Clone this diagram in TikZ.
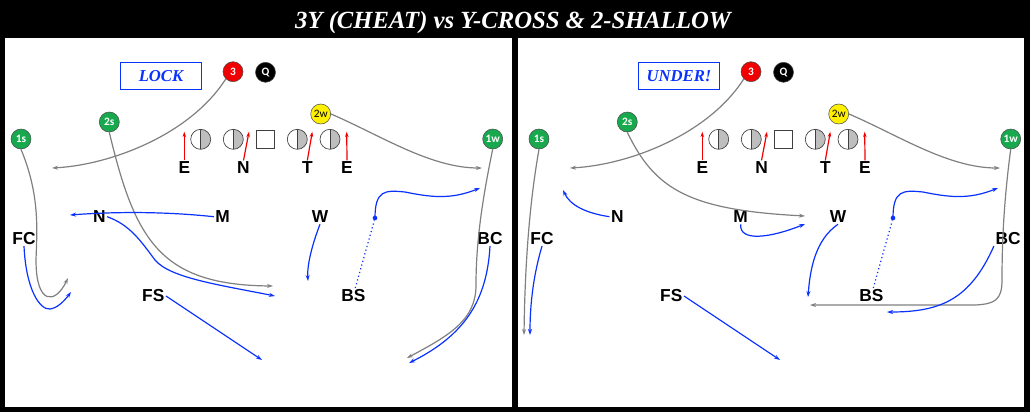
\documentclass[tikz,border=0pt]{standalone}
\usepackage{fontspec}
\setmainfont{Liberation Serif}
\setsansfont{Liberation Sans}
\newfontfamily\smallsans{Carlito}
\usetikzlibrary{arrows.meta}
\definecolor{routegray}{RGB}{128,128,128}
\definecolor{defblue}{RGB}{10,50,255}
\definecolor{wrgreen}{RGB}{24,168,78}
\definecolor{olgray}{RGB}{190,190,190}
\definecolor{qbred}{RGB}{240,0,0}
\definecolor{tyellow}{RGB}{255,240,0}
\tikzset{
  player/.style={circle, minimum size=15pt, inner sep=0pt, draw=black!70, line width=0.4pt,
    font=\smallsans\bfseries\fontsize{8.5}{8.5}\selectfont},
  wr/.style={player, fill=wrgreen, text=white},
  qbone/.style={player, fill=qbred, text=white},
  qback/.style={player, fill=black, text=white},
  tend/.style={player, fill=tyellow, text=black, font=\smallsans\fontsize{8.5}{8.5}\selectfont},
  olman/.style={circle, minimum size=15pt, inner sep=0pt, draw=black!75, line width=0.5pt,
    path picture={\fill[olgray] (path picture bounding box.north) rectangle (path picture bounding box.south east);
      \draw[black!75, line width=0.5pt] (path picture bounding box.north) -- (path picture bounding box.south);}},
  ctrman/.style={rectangle, minimum size=13.5pt, inner sep=0pt, draw=black!75, line width=0.5pt},
  dlab/.style={font=\sffamily\bfseries\fontsize{13}{13}\selectfont, inner sep=1pt},
  callbox/.style={draw=defblue, line width=0.8pt, minimum width=60.75pt, minimum height=20.25pt,
    inner sep=0pt, text=defblue, font=\bfseries\itshape\fontsize{12.5}{12.5}\selectfont},
  redarr/.style={qbred, line width=0.9pt, -{Stealth[length=4pt,width=2.6pt]}},
  groute/.style={routegray, line width=0.9pt, -{Stealth[length=4.5pt,width=3pt]}},
  broute/.style={defblue, line width=0.9pt, -{Stealth[length=4.5pt,width=3pt]}},
  bdotted/.style={defblue, line width=0.9pt, dotted},
  bsdot/.style={circle, fill=defblue, inner sep=0pt, minimum size=3.5pt}
}
\newcommand\panelcommon[3]{%
\begin{scope}[shift={(#2,0)}]
  \node[callbox] (#1box) at (161,75.8) {#3};
  \node[qbone] (#1three) at (233,71.7) {3};
  \node[qback] (#1q) at (265.5,72.3) {Q};
  \node[tend] (#1twow) at (320.7,114) {2w};
  \node[wr] (#1ones) at (21,139) {1s};
  \node[wr] (#1twos) at (109.3,122) {2s};
  \node[wr] (#1onew) at (492.7,139) {1w};
  \node[olman] (#1olA) at (200.7,139.3) {};
  \node[olman] (#1olB) at (233.3,139.3) {};
  \node[ctrman] (#1ctr) at (265.7,139.3) {};
  \node[olman] (#1olC) at (297.3,139.3) {};
  \node[olman] (#1olD) at (330,139.3) {};
  \node[dlab] (#1dE) at (184.3,168) {E};
  \node[dlab] (#1dN) at (243.5,168) {N};
  \node[dlab] (#1dT) at (307.3,168) {T};
  \node[dlab] (#1dEE) at (347,168) {E};
  \coordinate (#1tE) at (184.3,131.7);
  \coordinate (#1tN) at (249,131.7);
  \coordinate (#1tT) at (312.3,131.7);
  \coordinate (#1tEE) at (346.7,131.7);
  \draw[redarr] (#1dE.north) -- (#1tE);
  \draw[redarr] (#1dN.north) -- (#1tN);
  \draw[redarr] (#1dT.north) -- (#1tT);
  \draw[redarr] (#1dEE.north) -- (#1tEE);
  \node[dlab] (#1n) at (99.3,216.7) {N};
  \node[dlab] (#1m) at (222.7,216.7) {M};
  \node[dlab] (#1w) at (320,216.7) {W};
  \node[dlab] (#1fc) at (24,238.3) {FC};
  \node[dlab] (#1fs) at (153.3,296) {FS};
  \node[dlab] (#1bs) at (353.3,295.7) {BS};
  \node[dlab] (#1bc) at (490,238.3) {BC};
  \coordinate (#1eThree) at (52,168);
  \coordinate (#1eTwow) at (482,168);
  \coordinate (#1eFS) at (262,360);
  \coordinate (#1eBS) at (480,188);
  \node[bsdot] (#1dot) at (375,218) {};
  \draw[groute] (#1three.south west) .. controls (190,135) and (110,165) .. (#1eThree);
  \draw[groute] (#1twow.east) .. controls (380,135) and (430,168) .. (#1eTwow);
  \draw[broute] (#1fs.east) -- (#1eFS);
  \draw[bdotted] ([xshift=1.5pt]#1bs.north) -- (#1dot);
  \draw[broute] (#1dot.center) .. controls (375,190) and (385,190) .. (405,192)
     .. controls (430,197) and (450,200) .. (#1eBS);
\end{scope}}
\begin{document}
\begin{tikzpicture}[x=0.75pt,y=-0.75pt]
  \fill[black] (0,0) rectangle (1030,412);
  \useasboundingbox (0,0) rectangle (1030,412);
  \fill[white] (4.5,37.5) rectangle (511.5,407);
  \fill[white] (517.5,37.5) rectangle (1024,407);
  \node[anchor=base, text=white, font=\bfseries\itshape\fontsize{18.5}{21}\selectfont] (title) at (513,28.3)
    {3Y (CHEAT) vs Y-CROSS \& 2-SHALLOW};
  % ---------- left panel ----------
  \panelcommon{L}{0}{LOCK}
  \coordinate (LeOnes) at (68,278);
  \coordinate (LeTwos) at (273,286);
  \coordinate (LeOnew) at (407,358);
  \coordinate (LeM) at (70,215);
  \coordinate (LeN) at (275,296);
  \coordinate (LeW) at (308,281);
  \coordinate (LeBC) at (409,363);
  \coordinate (LeFC) at (71,292);
  \draw[groute] (Lones.south) .. controls (40,195) and (37,230) .. (36,260)
     .. controls (36,305) and (55,305) .. (LeOnes);
  \draw[groute] (Ltwos.south) .. controls (135,240) and (160,285) .. (LeTwos);
  \draw[groute] (Lonew.south) .. controls (480,210) and (476,250) .. (476,285)
     .. controls (476,320) and (450,335) .. (LeOnew);
  \draw[broute] (Lm.west) .. controls (160,211) and (110,212) .. (LeM);
  \draw[broute] (Ln.east) .. controls (130,225) and (140,240) .. (155,260)
     .. controls (170,278) and (220,285) .. (LeN);
  \draw[broute] (Lw.south) .. controls (312,245) and (307,265) .. (LeW);
  \draw[broute] (Lbc.south) .. controls (487,300) and (465,335) .. (LeBC);
  \draw[broute] (Lfc.south) .. controls (26,290) and (40,310) .. (50,309)
     .. controls (58,308) and (65,300) .. (LeFC);
  % ---------- right panel ----------
  \panelcommon{R}{518}{UNDER!}
  \coordinate (ReOnes) at (524,335);
  \coordinate (ReTwos) at (805,216);
  \coordinate (ReOnew) at (810,305);
  \coordinate (ReN) at (563,190);
  \coordinate (ReM) at (805,224);
  \coordinate (ReW) at (808,297);
  \coordinate (ReBC) at (887,312);
  \coordinate (ReFC) at (530,335);
  \draw[groute] (Rones.south) .. controls (530,200) and (525,260) .. (ReOnes);
  \draw[groute] (Rtwos.south) .. controls (655,190) and (690,210) .. (ReTwos);
  \draw[groute] (Ronew.south) .. controls (1004,200) and (1002,240) .. (1002,280)
     .. controls (1002,300) and (995,304) .. (975,305) -- (ReOnew);
  \draw[broute] (Rn.west) .. controls (585,213) and (570,205) .. (ReN);
  \draw[broute] (Rm.south) .. controls (739,242) and (770,238) .. (ReM);
  \draw[broute] (Rw.south) .. controls (815,240) and (810,270) .. (ReW);
  \draw[broute] (Rbc.south west) .. controls (970,300) and (940,312) .. (ReBC);
  \draw[broute] (Rfc.south) .. controls (532,280) and (530,310) .. (ReFC);
\end{tikzpicture}
\end{document}
